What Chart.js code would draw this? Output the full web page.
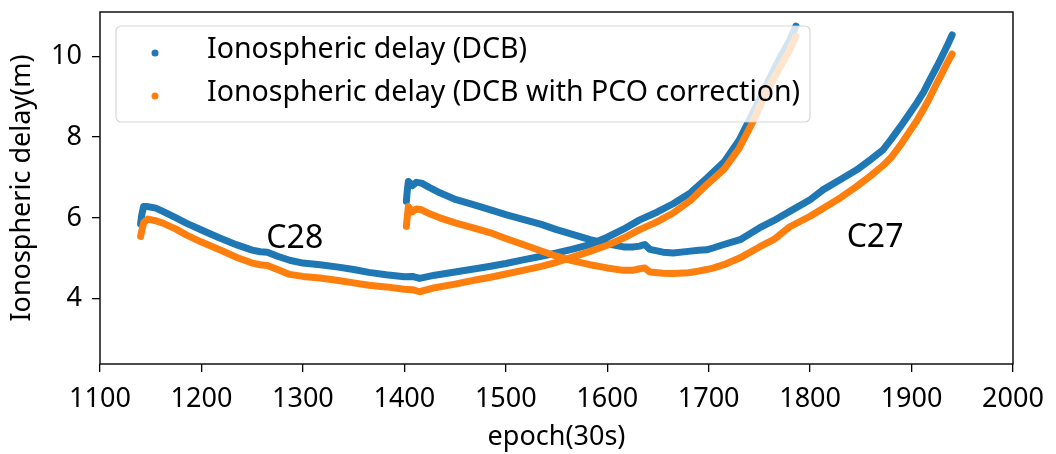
<!DOCTYPE html>
<html>
<head>
<meta charset="utf-8">
<script src="https://cdn.jsdelivr.net/npm/chart.js@4.4.1/dist/chart.umd.min.js"></script>
<style>
  html, body { margin: 0; padding: 0; background: #fff; }
  #wrap { width: 1056px; height: 454px; }
</style>
</head>
<body>
<div id="wrap"><canvas id="chart"></canvas></div>
<script>
// epochs, one list per satellite arc
const epochC28 = [1140, 1141, 1143, 1147, 1155, 1162, 1175, 1185, 1200, 1218, 1235, 1250, 1258, 1265, 1275, 1287, 1300, 1317, 1335, 1350, 1365, 1382, 1400, 1408, 1415, 1430, 1450, 1470, 1485, 1500, 1517, 1535, 1550, 1565, 1583, 1600, 1616, 1632, 1649, 1665, 1682, 1698, 1715, 1730, 1744, 1757, 1770, 1780, 1786];
const dcbC28 = [5.85, 6.05, 6.28, 6.28, 6.24, 6.16, 6.00, 5.87, 5.70, 5.50, 5.33, 5.20, 5.16, 5.15, 5.05, 4.95, 4.88, 4.84, 4.78, 4.72, 4.65, 4.59, 4.54, 4.55, 4.50, 4.58, 4.66, 4.74, 4.80, 4.87, 4.96, 5.05, 5.13, 5.22, 5.34, 5.52, 5.72, 5.95, 6.14, 6.35, 6.62, 6.98, 7.38, 7.92, 8.62, 9.30, 9.95, 10.40, 10.75];
const pcoC28 = [5.54, 5.66, 5.88, 5.97, 5.93, 5.87, 5.72, 5.58, 5.40, 5.21, 5.02, 4.88, 4.84, 4.82, 4.72, 4.60, 4.55, 4.51, 4.45, 4.39, 4.33, 4.29, 4.23, 4.22, 4.17, 4.27, 4.36, 4.46, 4.53, 4.61, 4.70, 4.80, 4.90, 5.02, 5.17, 5.32, 5.50, 5.71, 5.90, 6.12, 6.43, 6.82, 7.20, 7.72, 8.40, 9.12, 9.72, 10.16, 10.50];

const epochC27 = [1402, 1403, 1404, 1408, 1412, 1417, 1425, 1435, 1451, 1468, 1485, 1500, 1517, 1535, 1550, 1565, 1583, 1600, 1616, 1625, 1632, 1637, 1642, 1655, 1665, 1680, 1690, 1698, 1705, 1715, 1731, 1750, 1764, 1780, 1800, 1813, 1830, 1846, 1860, 1872, 1880, 1889, 1897, 1905, 1912, 1918, 1925, 1930, 1935, 1940];
const dcbC27 = [6.41, 6.70, 6.90, 6.80, 6.88, 6.86, 6.75, 6.62, 6.45, 6.33, 6.20, 6.08, 5.96, 5.84, 5.71, 5.60, 5.46, 5.36, 5.28, 5.28, 5.30, 5.34, 5.22, 5.15, 5.13, 5.17, 5.20, 5.21, 5.26, 5.34, 5.46, 5.75, 5.93, 6.16, 6.45, 6.70, 6.95, 7.19, 7.45, 7.69, 7.95, 8.26, 8.55, 8.84, 9.12, 9.42, 9.75, 10.00, 10.26, 10.53];
const pcoC27 = [5.79, 6.05, 6.28, 6.15, 6.22, 6.20, 6.10, 6.00, 5.87, 5.75, 5.63, 5.49, 5.34, 5.18, 5.05, 4.94, 4.84, 4.76, 4.70, 4.70, 4.74, 4.76, 4.66, 4.63, 4.62, 4.64, 4.68, 4.72, 4.76, 4.84, 5.01, 5.28, 5.46, 5.78, 6.04, 6.24, 6.50, 6.78, 7.05, 7.30, 7.50, 7.80, 8.10, 8.40, 8.70, 8.98, 9.34, 9.58, 9.83, 10.06];

const seriesNames = ["Ionospheric delay (DCB)", "Ionospheric delay (DCB with PCO correction)"];
const seriesColors = ["#1f77b4", "#ff7f0e"];

// satellite labels: [text, epoch, delay]
const satLabels = [["C28", 1264, 5.25], ["C27", 1836, 5.29]];

const xTicks = [1100, 1200, 1300, 1400, 1500, 1600, 1700, 1800, 1900, 2000];
const yTicks = [4, 6, 8, 10];

const FONT = "'Noto Sans', 'Open Sans', sans-serif";

function pairs(xs, ys) {
    return xs.map((x, i) => ({ x: x, y: ys[i] }));
}

function arc(label, xs, ys, color) {
    return {
        label: label,
        data: pairs(xs, ys),
        showLine: true,
        borderColor: color,
        backgroundColor: color,
        borderWidth: 7,
        borderCapStyle: "round",
        borderJoinStyle: "round",
        pointRadius: 0,
        tension: 0,
    };
}

// frame, satellite names and the matplotlib-like legend, drawn over the data
const overlay = {
    id: "overlay",
    afterDatasetsDraw(chart) {
        const { ctx, chartArea: a, scales } = chart;
        ctx.save();

        // full box around the plot
        ctx.strokeStyle = "#000";
        ctx.lineWidth = 1.4;
        ctx.strokeRect(a.left, a.top, a.right - a.left, a.bottom - a.top);

        // C28 / C27
        ctx.fillStyle = "#000";
        ctx.font = "32px " + FONT;
        ctx.textAlign = "left";
        ctx.textBaseline = "alphabetic";
        satLabels.forEach(([txt, ex, ey]) => {
            ctx.fillText(txt, scales.x.getPixelForValue(ex), scales.y.getPixelForValue(ey));
        });

        // legend box
        const bx = a.left + 16, by = a.top + 14, bw = 694, bh = 96, r = 5;
        ctx.beginPath();
        ctx.moveTo(bx + r, by);
        ctx.arcTo(bx + bw, by, bx + bw, by + bh, r);
        ctx.arcTo(bx + bw, by + bh, bx, by + bh, r);
        ctx.arcTo(bx, by + bh, bx, by, r);
        ctx.arcTo(bx, by, bx + bw, by, r);
        ctx.closePath();
        ctx.fillStyle = "rgba(255,255,255,0.8)";
        ctx.fill();
        ctx.strokeStyle = "rgba(204,204,204,0.8)";
        ctx.lineWidth = 1.2;
        ctx.stroke();

        ctx.font = "28.5px " + FONT;
        ctx.textBaseline = "middle";
        seriesNames.forEach((name, i) => {
            const cy = by + 27 + i * 43;
            ctx.fillStyle = seriesColors[i];
            ctx.beginPath();
            ctx.arc(bx + 39, cy, 3.5, 0, Math.PI * 2);
            ctx.fill();
            ctx.fillStyle = "#000";
            ctx.fillText(name, bx + 91, cy - 3);
        });
        ctx.restore();
    }
};

const ctx = document.getElementById("chart").getContext("2d");
new Chart(ctx, {
    type: "scatter",
    data: {
        // orange first so it is drawn above the blue
        datasets: [
            arc(seriesNames[1] + " C28", epochC28, pcoC28, seriesColors[1]),
            arc(seriesNames[1] + " C27", epochC27, pcoC27, seriesColors[1]),
            arc(seriesNames[0] + " C28", epochC28, dcbC28, seriesColors[0]),
            arc(seriesNames[0] + " C27", epochC27, dcbC27, seriesColors[0]),
        ],
    },
    options: {
        responsive: true,
        maintainAspectRatio: false,
        animation: false,
        layout: { padding: { top: 12, right: 43, left: 0, bottom: 0 } },
        plugins: {
            legend: { display: false },
            tooltip: { enabled: false },
        },
        scales: {
            x: {
                type: "linear",
                min: 1100,
                max: 2000,
                afterBuildTicks: (s) => { s.ticks = xTicks.map(v => ({ value: v })); },
                afterFit: (s) => { s.height = 90; s.paddingLeft = 0; s.paddingRight = 0; },
                grid: { drawOnChartArea: false, drawTicks: true, tickLength: 8, color: "#000", lineWidth: 1.3 },
                border: { display: false },
                ticks: { color: "#000", font: { family: FONT, size: 27 }, padding: 11, maxRotation: 0, callback: (v) => String(v) },
                title: { display: true, text: "epoch(30s)", color: "#000", font: { family: FONT, size: 27 }, padding: { top: 0, bottom: 0 } },
            },
            y: {
                type: "linear",
                min: 2.38,
                max: 11.1,
                afterBuildTicks: (s) => { s.ticks = yTicks.map(v => ({ value: v })); },
                afterFit: (s) => { s.width = 100; s.paddingTop = 0; s.paddingBottom = 0; },
                grid: { drawOnChartArea: false, drawTicks: true, tickLength: 8, color: "#000", lineWidth: 1.3 },
                border: { display: false },
                ticks: { color: "#000", font: { family: FONT, size: 27 }, padding: 10, callback: (v) => String(v) },
                title: { display: true, text: "Ionospheric delay(m)", color: "#000", font: { family: FONT, size: 27 }, padding: { top: 6, bottom: 0 } },
            },
        },
    },
    plugins: [overlay],
});
</script>
</body>
</html>
